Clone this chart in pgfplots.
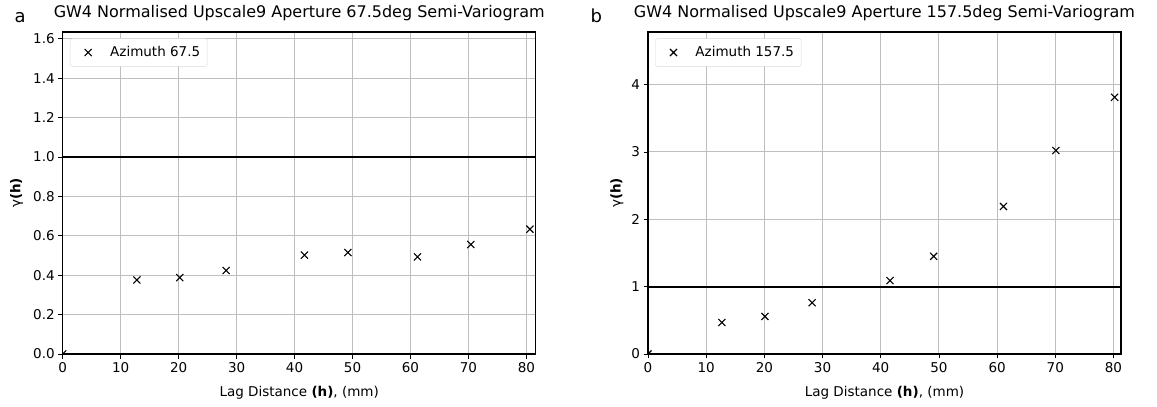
\documentclass[border=0pt]{standalone}
\usepackage{fontspec}
\setmainfont{DejaVu Sans}
\usepackage{pgfplots}
\pgfplotsset{compat=1.18}
\definecolor{gridgray}{HTML}{BEBEBE}
\pgfplotsset{
 vario/.style={
  scale only axis, width=473pt, height=322pt,
  anchor=south west,
  xmin=0, ymin=0,
  xtick={0,10,...,80},
  tick pos=left,
  grid=major, grid style={color=gridgray, line width=0.9pt},
  axis line style={line width=1.1pt},
  tick align=outside, major tick length=4.5pt,
  tick style={black, line width=0.8pt},
  ticklabel style={font=\fontsize{13.5}{15}\selectfont},
  /pgf/number format/assume math mode=true,
  xlabel={Lag Distance \textbf{(h)}, (mm)},
  xlabel style={at={(axis description cs:0.5,0)}, anchor=base, yshift=-42pt, font=\fontsize{13.5}{15}\selectfont},
  ylabel={γ\textbf{(h)}},
  ylabel style={font=\fontsize{13.5}{15}\selectfont},
  title style={at={(axis description cs:0.5,1)}, anchor=base, yshift=8.5pt, font=\fontsize{16}{18}\selectfont},
  clip marker paths=true,
  legend cell align=left,
  legend image code/.code={\path[draw=none, fill=none] (0pt,-3pt) rectangle (33pt,3pt); \draw[#1] plot[only marks] coordinates {(13pt,0pt)};},
  legend style={at={(0.0154,0.980)}, anchor=north west, draw=gray!30, rounded corners=2pt,
    font=\fontsize{13.5}{15}\selectfont, inner xsep=5pt, inner ysep=6pt},
 }
}
\begin{document}
\begin{tikzpicture}
\useasboundingbox (0,0) rectangle (1157pt,407pt);
\node[anchor=base west, font=\fontsize{18}{20}\selectfont] at (11pt,384pt) {a};
\node[anchor=base west, font=\fontsize{18}{20}\selectfont] at (587pt,384pt) {b};
\begin{axis}[vario, at={(62.7pt,53pt)},
  xmax=81.6, ymax=1.635,
  ytick={0,0.2,...,1.6},
  yticklabel style={/pgf/number format/fixed, /pgf/number format/fixed zerofill, /pgf/number format/precision=1},
  ylabel style={at={([xshift=-46pt]axis description cs:0,0.5)}, anchor=center},
  title={GW4 Normalised Upscale9 Aperture 67.5deg Semi-Variogram}]
\addplot[only marks, mark=x, mark size=5pt, black, line width=1.1pt] coordinates {
 (0,0) (12.8,0.376) (20.2,0.388) (28.2,0.424) (41.7,0.502) (49.2,0.515) (61.2,0.493) (70.4,0.556) (80.6,0.634)};
\addlegendentry{Azimuth 67.5}
\addplot[black, line width=1.8pt, forget plot] coordinates {(0,1) (81.6,1)};
\end{axis}
\begin{axis}[vario, at={(648pt,53pt)},
  xmax=81.3, ymax=4.78,
  ytick={0,1,2,3,4},
  ylabel style={at={([xshift=-31pt]axis description cs:0,0.5)}, anchor=center},
  title={GW4 Normalised Upscale9 Aperture 157.5deg Semi-Variogram}]
\addplot[only marks, mark=x, mark size=5pt, black, line width=1.1pt] coordinates {
 (0,0) (12.7,0.468) (20.1,0.557) (28.2,0.761) (41.6,1.09) (49.1,1.45) (61.1,2.19) (70.1,3.02) (80.2,3.81)};
\addlegendentry{Azimuth 157.5}
\addplot[black, line width=1.8pt, forget plot] coordinates {(0,1) (81.3,1)};
\end{axis}
\end{tikzpicture}
\end{document}
